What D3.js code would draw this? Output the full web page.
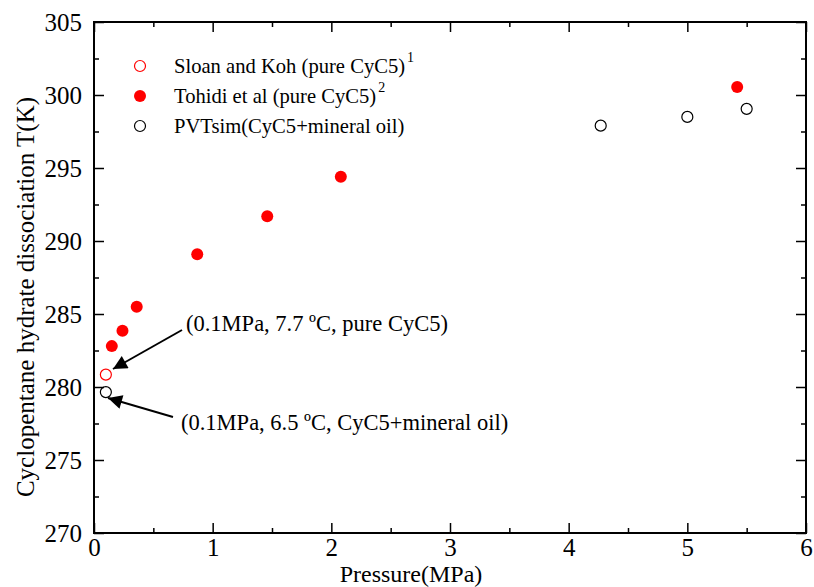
<!DOCTYPE html>
<html><head><meta charset="utf-8">
<script src="https://cdn.jsdelivr.net/npm/d3@7"></script>
<style>body{margin:0;background:#fff}svg, svg text{font-family:"Liberation Serif","Times New Roman",serif !important}</style>
</head><body><svg id="c" width="814" height="587"></svg>
<script>
const sloanP = [0.1], sloanT = [280.85];
const tohidiP = [0.15, 0.24, 0.36, 0.87, 1.46, 2.08, 5.42];
const tohidiT = [282.8, 283.85, 285.5, 289.1, 291.7, 294.4, 300.55];
const pvtP = [0.1, 4.27, 5.0, 5.5];
const pvtT = [279.65, 297.9, 298.5, 299.05];
const xTicks = [0,1,2,3,4,5,6];
const yTicks = [270,275,280,285,290,295,300,305];
const legendLabels = ["Sloan and Koh (pure CyC5)", "Tohidi et al (pure CyC5)", "PVTsim(CyC5+mineral oil)"];
const legendSup = ["1", "2", ""];
const notes = [
  {text:"(0.1MPa, 7.7 ºC, pure CyC5)", p:0.1, t:280.85},
  {text:"(0.1MPa, 6.5 ºC, CyC5+mineral oil)", p:0.1, t:279.65}
];

const svg = d3.select("#c");
const L=94,R=806,T=22,B=533;
const x = d3.scaleLinear().domain([0,6]).range([L,R]);
const y = d3.scaleLinear().domain([270,305]).range([B,T]);

const defs = svg.append("defs");
defs.append("marker").attr("id","ah").attr("viewBox","0 0 10 10").attr("refX",10).attr("refY",5)
  .attr("markerWidth",18).attr("markerHeight",14).attr("markerUnits","userSpaceOnUse").attr("orient","auto")
  .append("path").attr("d","M0,0L10,5L0,10Z").attr("fill","#000");

const minorX = d3.range(0.5,6,1), minorY = d3.range(272.5,305,5);
function ax(g, axis){
  g.call(axis); g.attr("font-family",null).attr("font-size",null);
  g.select(".domain").remove();
  g.selectAll("line").attr("stroke","#000").attr("stroke-width",1.5);
  g.selectAll("text").attr("font-size","25px").attr("fill","#000")
    .style("font-family","'Liberation Serif', 'Times New Roman', serif");
}
const gb = svg.append("g").attr("transform",`translate(0,${B})`);
ax(gb, d3.axisBottom(x).tickValues(xTicks).tickSize(-10).tickPadding(5).tickFormat(d3.format("d")));
ax(svg.append("g").attr("transform",`translate(0,${B})`), d3.axisBottom(x).tickValues(minorX).tickSize(-5).tickFormat(""));
ax(svg.append("g").attr("transform",`translate(0,${T})`), d3.axisTop(x).tickValues(xTicks).tickSize(-10).tickFormat(""));
ax(svg.append("g").attr("transform",`translate(0,${T})`), d3.axisTop(x).tickValues(minorX).tickSize(-5).tickFormat(""));
const gl = svg.append("g").attr("transform",`translate(${L},0)`);
ax(gl, d3.axisLeft(y).tickValues(yTicks).tickSize(-10).tickPadding(12).tickFormat(d3.format("d")));
ax(svg.append("g").attr("transform",`translate(${L},0)`), d3.axisLeft(y).tickValues(minorY).tickSize(-5).tickFormat(""));
ax(svg.append("g").attr("transform",`translate(${R},0)`), d3.axisRight(y).tickValues(yTicks).tickSize(-10).tickFormat(""));
ax(svg.append("g").attr("transform",`translate(${R},0)`), d3.axisRight(y).tickValues(minorY).tickSize(-5).tickFormat(""));
svg.append("rect").attr("x",L).attr("y",T).attr("width",R-L).attr("height",B-T).attr("fill","none").attr("stroke","#000").attr("stroke-width",2);

// titles
svg.append("text").attr("x",411).attr("y",582).attr("text-anchor","middle").attr("font-size","24px").text("Pressure(MPa)");
svg.append("text").attr("transform",`translate(34,297) rotate(-90)`).attr("text-anchor","middle").attr("font-size","25px").text("Cyclopentane hydrate dissociation T(K)");

// points
const r=6;
svg.append("g").selectAll("circle").data(tohidiP.map((p,i)=>[p,tohidiT[i]])).join("circle")
  .attr("cx",d=>x(d[0])).attr("cy",d=>y(d[1])).attr("r",r).attr("fill","#ff0000");
svg.append("g").selectAll("circle").data(sloanP.map((p,i)=>[p,sloanT[i]])).join("circle")
  .attr("cx",d=>x(d[0])).attr("cy",d=>y(d[1])).attr("r",r-0.5).attr("fill","none").attr("stroke","#ff0000").attr("stroke-width",1.2);
svg.append("g").selectAll("circle").data(pvtP.map((p,i)=>[p,pvtT[i]])).join("circle")
  .attr("cx",d=>x(d[0])).attr("cy",d=>y(d[1])).attr("r",r-0.5).attr("fill","none").attr("stroke","#000").attr("stroke-width",1.2);

// legend
const lg = svg.append("g");
const ly = [66,96,126];
lg.append("circle").attr("cx",140).attr("cy",ly[0]).attr("r",r-0.5).attr("fill","none").attr("stroke","#ff0000").attr("stroke-width",1.2);
lg.append("circle").attr("cx",140).attr("cy",ly[1]).attr("r",r).attr("fill","#ff0000");
lg.append("circle").attr("cx",140).attr("cy",ly[2]).attr("r",r-0.5).attr("fill","none").attr("stroke","#000").attr("stroke-width",1.2);
legendLabels.forEach((s,i)=>{
  const t = lg.append("text").attr("x",174).attr("y",ly[i]+7).attr("font-size","20.6px").text(s);
  if(legendSup[i]) t.append("tspan").attr("dx",2).attr("dy",-11).attr("font-size","14px").text(legendSup[i]);
});

// annotations
const nPos = [{tx:186,ty:331,sx:182,sy:330,ex:113,ey:369},{tx:181,ty:430,sx:173,sy:417,ex:108,ey:398}];
notes.forEach((n,i)=>{
  const q = nPos[i];
  svg.append("text").attr("x",q.tx).attr("y",q.ty).attr("font-size","22.5px").text(n.text);
  svg.append("line").attr("x1",q.sx).attr("y1",q.sy).attr("x2",q.ex).attr("y2",q.ey)
    .attr("stroke","#000").attr("stroke-width",2).attr("marker-end","url(#ah)");
});
</script></body></html>
